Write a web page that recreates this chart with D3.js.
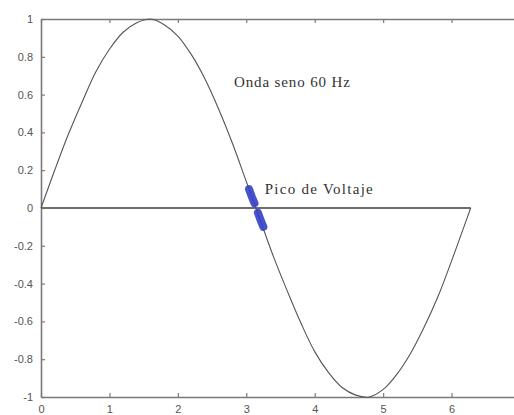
<!DOCTYPE html>
<html>
<head>
<meta charset="utf-8">
<script src="https://cdn.jsdelivr.net/npm/d3@7"></script>
<style>
  html, body { margin: 0; padding: 0; background: #fff; }
  svg { display: block; }
</style>
</head>
<body>
<script>
// ---- data ----
const waveX = [0,0.2,0.4,0.6,0.8,1.0,1.2,1.4,1.6,1.8,2.0,2.2,2.4,2.6,2.8,3.0,3.2,3.4,3.6,3.8,4.0,4.2,4.4,4.6,4.8,5.0,5.2,5.4,5.6,5.8,6.0,6.2,6.28];
const waveY = [0,0.20,0.39,0.56,0.72,0.84,0.93,0.98,1.00,0.97,0.91,0.81,0.68,0.52,0.34,0.14,-0.06,-0.26,-0.44,-0.61,-0.76,-0.87,-0.95,-0.99,-1.00,-0.96,-0.88,-0.77,-0.63,-0.47,-0.28,-0.08,0];
const baseX = [0, 6.28];
const baseY = [0, 0];
const blob1X = [3.04, 3.08, 3.12];
const blob1Y = [0.10, 0.06, 0.025];
const blob2X = [3.17, 3.21, 3.25];
const blob2Y = [-0.025, -0.065, -0.10];
const xTicks = [0,1,2,3,4,5,6];
const yTicks = [-1,-0.8,-0.6,-0.4,-0.2,0,0.2,0.4,0.6,0.8,1];
const labelWave = "Onda seno 60 Hz";
const labelPeak = "Pico de Voltaje";

(function () {
// ---- layout ----
const W = 514, H = 415;
const mLeft = 41, mRight = 520, mTop = 19, mBottom = 397;

const svg = d3.select("body").append("svg").attr("width", W).attr("height", H);

const x = d3.scaleLinear().domain([0, 7]).range([mLeft, mRight]);
const y = d3.scaleLinear().domain([-1, 1]).range([mBottom, mTop]);

const axisColor = "#7a7a7a";
const fmt = d => String(d);

const gB = svg.append("g").attr("transform", `translate(0,${mBottom})`)
  .call(d3.axisBottom(x).tickValues(xTicks).tickSizeInner(-4).tickSizeOuter(0).tickPadding(8).tickFormat(fmt));
const gT = svg.append("g").attr("transform", `translate(0,${mTop})`)
  .call(d3.axisTop(x).tickValues(xTicks).tickSizeInner(-4).tickSizeOuter(0).tickFormat(""));
const gL = svg.append("g").attr("transform", `translate(${mLeft},0)`)
  .call(d3.axisLeft(y).tickValues(yTicks).tickSizeInner(-4).tickSizeOuter(0).tickPadding(8).tickFormat(fmt));
const gR = svg.append("g").attr("transform", `translate(${mRight},0)`)
  .call(d3.axisRight(y).tickValues(yTicks).tickSizeInner(-4).tickSizeOuter(0).tickFormat(""));

[gB, gT, gL, gR].forEach(g => {
  g.select(".domain").attr("stroke", axisColor).attr("stroke-width", 1.6);
  g.selectAll(".tick line").attr("stroke", axisColor).attr("stroke-width", 1.2);
  g.selectAll(".tick text").attr("fill", "#555").attr("font-family", "'Liberation Sans', Arial, sans-serif").attr("font-size", 11);
});

const line = d3.line().x(d => x(d[0])).y(d => y(d[1]));
const lineSmooth = d3.line().x(d => x(d[0])).y(d => y(d[1])).curve(d3.curveCatmullRom);

svg.append("path").datum(d3.zip(baseX, baseY)).attr("d", line)
  .attr("fill", "none").attr("stroke", "#6e6e6e").attr("stroke-width", 1.8);

svg.append("path").datum(d3.zip(waveX, waveY)).attr("d", lineSmooth)
  .attr("fill", "none").attr("stroke", "#555").attr("stroke-width", 1.1);

[[blob1X, blob1Y], [blob2X, blob2Y]].forEach(([bx, by]) => {
  svg.append("path").datum(d3.zip(bx, by)).attr("d", line)
    .attr("fill", "none").attr("stroke", "#3340c4").attr("stroke-width", 8)
    .attr("stroke-linecap", "round").attr("opacity", 0.9);
});

svg.append("text").attr("x", x(2.82)).attr("y", y(0.64)).text(labelWave)
  .attr("font-family", "'Liberation Serif', 'Times New Roman', serif").attr("font-size", 15)
  .attr("fill", "#333").attr("textLength", 116);
svg.append("text").attr("x", x(3.27)).attr("y", y(0.075)).text(labelPeak)
  .attr("font-family", "'Liberation Serif', 'Times New Roman', serif").attr("font-size", 15)
  .attr("fill", "#333").attr("textLength", 108);
})();
</script>
</body>
</html>
